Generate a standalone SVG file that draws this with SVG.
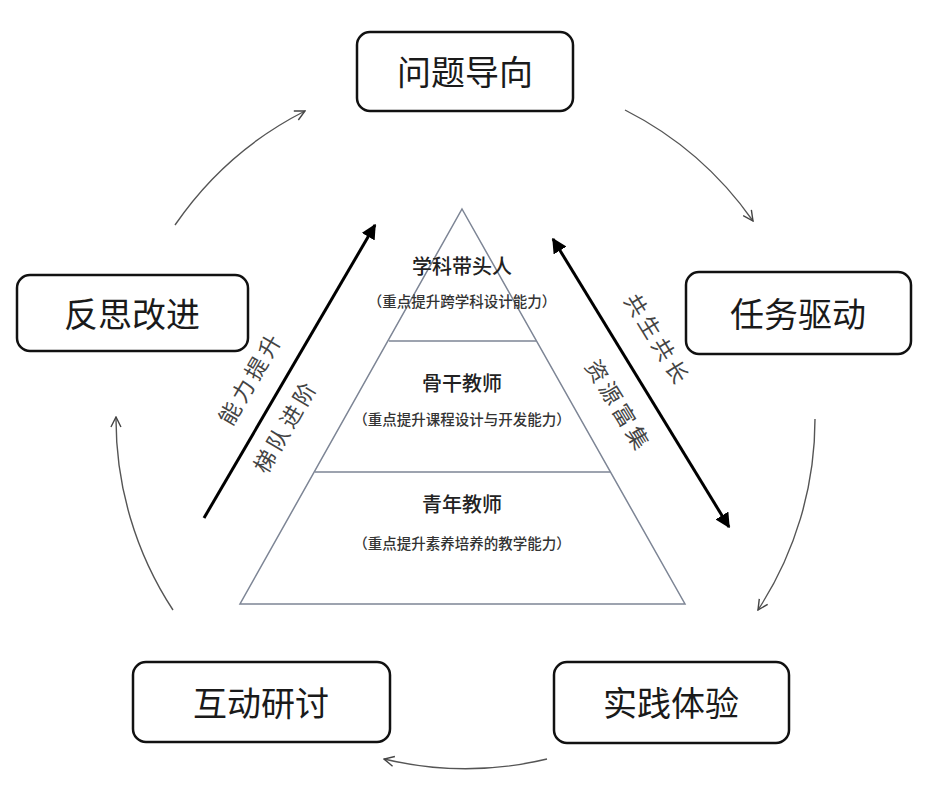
<svg xmlns="http://www.w3.org/2000/svg" width="936" height="795" viewBox="0 0 936 795">
<defs>
<style>
.box{fill:#fff;stroke:#111;stroke-width:2.5}
.bt{font-family:"Noto Sans CJK SC","Noto Sans",sans-serif;font-size:34px;fill:#1a1a1a;text-anchor:middle;dominant-baseline:central}
.pyr{fill:#fff;stroke:#7d8595;stroke-width:1.5}
.pt{font-family:"Noto Sans CJK SC","Noto Sans",sans-serif;font-size:20px;font-weight:500;fill:#222;text-anchor:middle;dominant-baseline:central}
.ps{font-family:"Noto Sans CJK SC","Noto Sans",sans-serif;font-size:14.5px;font-weight:500;fill:#333;text-anchor:middle;dominant-baseline:central}
.lt{font-family:"Noto Sans CJK SC","Noto Sans",sans-serif;font-size:22px;letter-spacing:4px;fill:#444;text-anchor:middle;dominant-baseline:central}
.cyc{fill:none;stroke:#555;stroke-width:1.4;marker-end:url(#open)}
.thick{fill:none;stroke:#000;stroke-width:3}
</style>
<marker id="open" viewBox="0 0 12 12" refX="11" refY="6" markerWidth="12" markerHeight="12" markerUnits="userSpaceOnUse" orient="auto">
<path d="M1,1 L11,6 L1,11" fill="none" stroke="#444" stroke-width="1.4"/>
</marker>
<marker id="solid" viewBox="0 0 10 10" refX="9" refY="5" markerWidth="5" markerHeight="5" orient="auto">
<path d="M0,0 L10,5 L0,10 Z" fill="#000"/>
</marker>
<marker id="solidStart" viewBox="0 0 10 10" refX="1" refY="5" markerWidth="5" markerHeight="5" orient="auto">
<path d="M10,0 L0,5 L10,10 Z" fill="#000"/>
</marker>
</defs>
<rect width="936" height="795" fill="#fff"/>

<g id="connectors">
<path class="cyc" d="M175,225 A349,349 0 0 1 305,111"/>
<path class="cyc" d="M625,110 A349,349 0 0 1 753,221"/>
<path class="cyc" d="M815,419 A349,349 0 0 1 758,610"/>
<path class="cyc" d="M547,759 A349,349 0 0 1 384,759"/>
<path class="cyc" d="M173,610 A349,349 0 0 1 116,417"/>
<line class="thick" x1="204" y1="518" x2="375" y2="225" marker-end="url(#solid)"/>
<line class="thick" x1="553" y1="239" x2="729" y2="527" marker-start="url(#solidStart)" marker-end="url(#solid)"/>
<text class="lt" transform="translate(249,377) rotate(-59.7)">能力提升</text>
<text class="lt" transform="translate(284,425) rotate(-59.7)">梯队进阶</text>
<text class="lt" transform="translate(659,339) rotate(58.5)">共生共长</text>
<text class="lt" transform="translate(620,405) rotate(58.5)">资源富集</text>
</g>

<g id="pyramid">
<polygon class="pyr" points="462,209 685,604 240,604"/>
<line class="pyr" x1="389" y1="341" x2="536" y2="341"/>
<line class="pyr" x1="315" y1="472" x2="610" y2="472"/>
</g>
<g id="level-top">
<text class="pt" x="462" y="265">学科带头人</text>
<text class="ps" x="462" y="300">（重点提升跨学科设计能力）</text>
</g>
<g id="level-mid">
<text class="pt" x="462" y="382">骨干教师</text>
<text class="ps" x="462" y="418">（重点提升课程设计与开发能力）</text>
</g>
<g id="level-base">
<text class="pt" x="462" y="503">青年教师</text>
<text class="ps" x="462" y="542">（重点提升素养培养的教学能力）</text>
</g>

<g id="node-wenti">
<rect class="box" x="357" y="32" width="216" height="79" rx="13"/>
<text class="bt" x="465" y="70">问题导向</text>
</g>
<g id="node-renwu">
<rect class="box" x="686" y="272" width="225" height="82" rx="13"/>
<text class="bt" x="798" y="312">任务驱动</text>
</g>
<g id="node-shijian">
<rect class="box" x="554" y="662" width="235" height="81" rx="13"/>
<text class="bt" x="671" y="701">实践体验</text>
</g>
<g id="node-hudong">
<rect class="box" x="133" y="662" width="257" height="80" rx="13"/>
<text class="bt" x="261" y="701">互动研讨</text>
</g>
<g id="node-fansi">
<rect class="box" x="17" y="275" width="231" height="76" rx="13"/>
<text class="bt" x="132" y="312">反思改进</text>
</g>
</svg>
